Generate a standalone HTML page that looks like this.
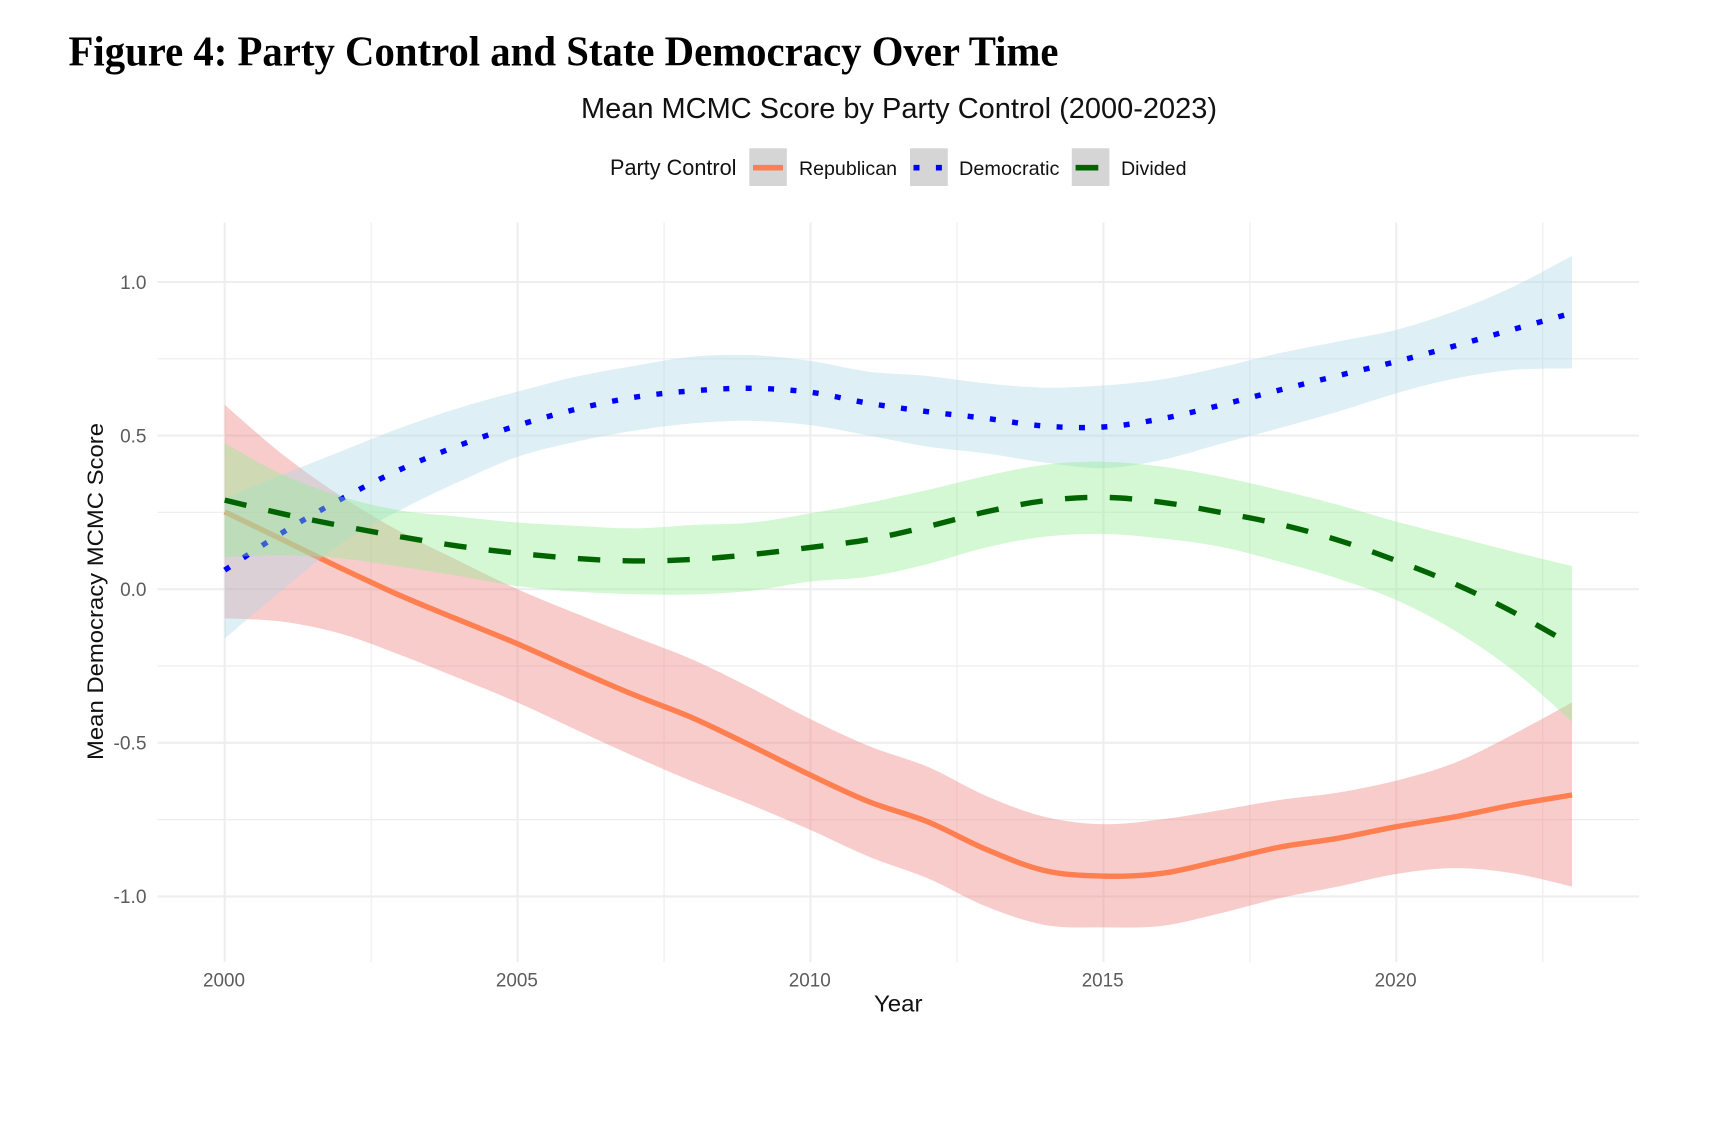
<!DOCTYPE html>
<html lang="en">
<head>
<meta charset="utf-8">
<title>Figure 4: Party Control and State Democracy Over Time</title>
<style>
html,body{margin:0;padding:0;background:#fff;}
svg{display:block;filter:blur(0.35px);}
text{font-family:"Liberation Sans",Arial,sans-serif;}
</style>
</head>
<body>
<svg id="chart" xmlns="http://www.w3.org/2000/svg" width="1716" height="1138" viewBox="0 0 1716 1138">
  <rect x="0" y="0" width="1716" height="1138" fill="#ffffff"/>
  <text x="68.5" y="65.5" font-size="42" font-weight="700" fill="#000" textLength="990" lengthAdjust="spacingAndGlyphs" style="font-family:'Liberation Serif','Times New Roman',serif">Figure 4: Party Control and State Democracy Over Time</text>
  <text x="581" y="118" font-size="28.5" fill="#111" textLength="636" lengthAdjust="spacingAndGlyphs">Mean MCMC Score by Party Control (2000-2023)</text>

  <g>
    <text x="610" y="175" font-size="22.5" fill="#111" textLength="126.5" lengthAdjust="spacingAndGlyphs">Party Control</text>
    <g>
      <rect x="749.3" y="148.3" width="37.5" height="37.7" fill="#d5d5d5"/>
      <line x1="753" y1="167.7" x2="783" y2="167.7" stroke="#ff7f50" stroke-width="5.6"/>
      <text x="799" y="175" font-size="19.5" fill="#111" textLength="98" lengthAdjust="spacingAndGlyphs">Republican</text>
    </g>
    <g>
      <rect x="910" y="148.3" width="37.8" height="37.7" fill="#d5d5d5"/>
      <line x1="913.5" y1="167.7" x2="944" y2="167.7" stroke="#0000ff" stroke-width="5.6" stroke-dasharray="6 16.4"/>
      <text x="959" y="175" font-size="19.5" fill="#111" textLength="100.5" lengthAdjust="spacingAndGlyphs">Democratic</text>
    </g>
    <g>
      <rect x="1071.8" y="148.3" width="37.6" height="37.7" fill="#d5d5d5"/>
      <line x1="1075.6" y1="167.7" x2="1098.3" y2="167.7" stroke="#006400" stroke-width="5.6"/>
      <text x="1121" y="175" font-size="19.5" fill="#111" textLength="65.5" lengthAdjust="spacingAndGlyphs">Divided</text>
    </g>
  </g>

  <g id="grid"></g>
  <g id="marks"></g>
  <g id="ticks"></g>

  <text x="874" y="1011.5" font-size="23" fill="#111" textLength="48.5" lengthAdjust="spacingAndGlyphs">Year</text>
  <text x="0" y="0" transform="translate(103 760) rotate(-90)" font-size="22" fill="#111" textLength="337" lengthAdjust="spacingAndGlyphs">Mean Democracy MCMC Score</text>
</svg>

<script>
const years = [2000,2001,2002,2003,2004,2005,2006,2007,2008,2009,2010,2011,2012,2013,2014,2015,2016,2017,2018,2019,2020,2021,2022,2023];

const republicanMean = [0.252,0.160,0.067,-0.021,-0.100,-0.178,-0.263,-0.345,-0.420,-0.511,-0.605,-0.692,-0.757,-0.847,-0.916,-0.934,-0.925,-0.884,-0.840,-0.811,-0.773,-0.741,-0.702,-0.670];
const republicanUpper = [0.600,0.437,0.301,0.187,0.092,0.000,-0.079,-0.155,-0.230,-0.323,-0.423,-0.511,-0.578,-0.673,-0.741,-0.765,-0.749,-0.719,-0.686,-0.662,-0.623,-0.565,-0.472,-0.369];
const republicanLower = [-0.095,-0.106,-0.146,-0.214,-0.290,-0.369,-0.458,-0.545,-0.627,-0.703,-0.784,-0.871,-0.941,-1.033,-1.093,-1.101,-1.096,-1.055,-1.006,-0.968,-0.927,-0.908,-0.925,-0.968];

const democraticMean = [0.062,0.186,0.295,0.390,0.468,0.533,0.586,0.625,0.646,0.654,0.641,0.605,0.578,0.556,0.531,0.528,0.555,0.599,0.648,0.695,0.741,0.792,0.846,0.899];
const democraticUpper = [0.296,0.374,0.450,0.525,0.590,0.643,0.692,0.727,0.757,0.762,0.743,0.708,0.694,0.670,0.656,0.663,0.683,0.722,0.768,0.806,0.844,0.905,0.985,1.085];
const democraticLower = [-0.160,0.000,0.151,0.258,0.350,0.431,0.480,0.516,0.540,0.548,0.534,0.500,0.464,0.442,0.412,0.394,0.421,0.473,0.524,0.578,0.638,0.686,0.714,0.719];

const dividedMean = [0.290,0.245,0.206,0.171,0.140,0.117,0.100,0.092,0.097,0.113,0.136,0.162,0.204,0.252,0.288,0.299,0.283,0.250,0.212,0.160,0.093,0.017,-0.075,-0.182];
const dividedUpper = [0.475,0.372,0.301,0.256,0.236,0.217,0.206,0.198,0.209,0.217,0.247,0.282,0.323,0.369,0.405,0.415,0.399,0.366,0.323,0.275,0.220,0.171,0.122,0.075];
const dividedLower = [0.104,0.111,0.100,0.073,0.043,0.010,-0.008,-0.016,-0.017,-0.005,0.025,0.041,0.082,0.136,0.171,0.180,0.165,0.138,0.090,0.035,-0.035,-0.135,-0.265,-0.431];

const xTickYears = [2000,2005,2010,2015,2020];
const xMinorYears = [2002.5,2007.5,2012.5,2017.5,2022.5];
const yTickValues = [-1.0,-0.5,0.0,0.5,1.0];
const yTickLabels = ["-1.0","-0.5","0.0","0.5","1.0"];
const yMinorValues = [-0.75,-0.25,0.25,0.75];

const NS = "http://www.w3.org/2000/svg";
const panel = {left:157.5, right:1639, top:222.5, bottom:962};
function xScale(year){ return 224.7 + (year - 2000) * 58.58; }
function yScale(value){ return 589.2 - value * 307.2; }

function smoothSegment(points, move){
  let d = (move ? "M" : "L") + points[0][0].toFixed(2) + " " + points[0][1].toFixed(2);
  for (let i = 0; i < points.length - 1; i++){
    const p0 = points[Math.max(i - 1, 0)], p1 = points[i], p2 = points[i + 1], p3 = points[Math.min(i + 2, points.length - 1)];
    const c1x = p1[0] + (p2[0] - p0[0]) / 6, c1y = p1[1] + (p2[1] - p0[1]) / 6;
    const c2x = p2[0] - (p3[0] - p1[0]) / 6, c2y = p2[1] - (p3[1] - p1[1]) / 6;
    d += "C" + c1x.toFixed(2) + " " + c1y.toFixed(2) + " " + c2x.toFixed(2) + " " + c2y.toFixed(2) + " " + p2[0].toFixed(2) + " " + p2[1].toFixed(2);
  }
  return d;
}
function toPoints(values){ return values.map(function(v, i){ return [xScale(years[i]), yScale(v)]; }); }

const gridGroup = document.getElementById("grid");
function addGrid(x1, y1, x2, y2, width, name){
  const el = document.createElementNS(NS, "line");
  el.setAttribute("x1", x1); el.setAttribute("y1", y1); el.setAttribute("x2", x2); el.setAttribute("y2", y2);
  el.setAttribute("stroke", "#eeeeee"); el.setAttribute("stroke-width", width);
  
  
  gridGroup.appendChild(el);
}
yMinorValues.forEach(function(v){ addGrid(panel.left, yScale(v), panel.right, yScale(v), 1.2, "y-minor-gridline"); });
xMinorYears.forEach(function(y){ addGrid(xScale(y), panel.top, xScale(y), panel.bottom, 1.2, "x-minor-gridline"); });
yTickValues.forEach(function(v){ addGrid(panel.left, yScale(v), panel.right, yScale(v), 2.1, "y-major-gridline"); });
xTickYears.forEach(function(y){ addGrid(xScale(y), panel.top, xScale(y), panel.bottom, 2.1, "x-major-gridline"); });

const tickGroup = document.getElementById("ticks");
xTickYears.forEach(function(y){
  const t = document.createElementNS(NS, "text");
  t.setAttribute("x", xScale(y) - 0.7); t.setAttribute("y", 986.5);
  t.setAttribute("text-anchor", "middle"); t.setAttribute("font-size", "19.5"); t.setAttribute("fill", "#5c5c5c");
  t.setAttribute("textLength", "42"); t.setAttribute("lengthAdjust", "spacingAndGlyphs");
  
  
  t.textContent = String(y);
  tickGroup.appendChild(t);
});
yTickValues.forEach(function(v, i){
  const t = document.createElementNS(NS, "text");
  t.setAttribute("x", 146.5); t.setAttribute("y", yScale(v) + 6.8);
  t.setAttribute("text-anchor", "end"); t.setAttribute("font-size", "19.5"); t.setAttribute("fill", "#5c5c5c");
  t.setAttribute("textLength", yTickLabels[i].length === 4 ? "33" : "26.4"); t.setAttribute("lengthAdjust", "spacingAndGlyphs");
  
  
  t.textContent = yTickLabels[i];
  tickGroup.appendChild(t);
});

const marks = document.getElementById("marks");
function addRibbon(upper, lower, fill, name){
  const el = document.createElementNS(NS, "path");
  const top = toPoints(upper);
  const bottom = toPoints(lower).reverse();
  el.setAttribute("d", smoothSegment(top, true) + smoothSegment(bottom, false) + "Z");
  el.setAttribute("fill", fill); el.setAttribute("fill-opacity", "0.4");
  
  
  marks.appendChild(el);
}
function addLine(values, stroke, dash, name){
  const el = document.createElementNS(NS, "path");
  el.setAttribute("d", smoothSegment(toPoints(values), true));
  el.setAttribute("fill", "none"); el.setAttribute("stroke", stroke); el.setAttribute("stroke-width", "5.4");
  if (dash) el.setAttribute("stroke-dasharray", dash);
  
  
  marks.appendChild(el);
}
addRibbon(republicanUpper, republicanLower, "#f08080", "republican-ribbon");
addLine(republicanMean, "#ff7f50", null, "republican-line");
addRibbon(democraticUpper, democraticLower, "#add8e6", "democratic-ribbon");
addLine(democraticMean, "#0000ff", "6 16.4", "democratic-line");
addRibbon(dividedUpper, dividedLower, "#90ee90", "divided-ribbon");
addLine(dividedMean, "#006400", "22.4 22.4", "divided-line");
</script>
</body>
</html>
